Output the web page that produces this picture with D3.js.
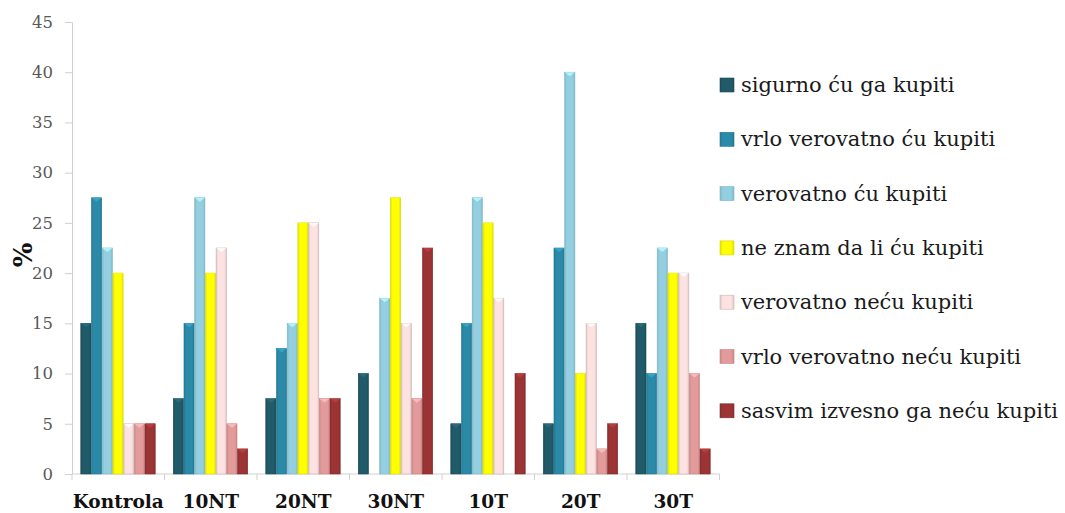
<!DOCTYPE html>
<html><head><meta charset="utf-8">
<script src="https://cdn.jsdelivr.net/npm/d3@7"></script>
<style>body{margin:0;background:#fff}svg{display:block}</style>
</head><body>
<svg id="c" width="1065" height="513"></svg>
<script>
const categories = ["Kontrola","10NT","20NT","30NT","10T","20T","30T"];
const seriesNames = ["sigurno ću ga kupiti","vrlo verovatno ću kupiti","verovatno ću kupiti","ne znam da li ću kupiti","verovatno neću kupiti","vrlo verovatno neću kupiti","sasvim izvesno ga neću kupiti"];
const sigurno      = [15, 7.5, 7.5, 10, 5, 5, 15];
const vrloVerov    = [27.5, 15, 12.5, 0, 15, 22.5, 10];
const verovatno    = [22.5, 27.5, 15, 17.5, 27.5, 40, 22.5];
const neZnam       = [20, 20, 25, 27.5, 25, 10, 20];
const verovNece    = [5, 22.5, 25, 15, 17.5, 15, 20];
const vrloNece     = [5, 5, 7.5, 7.5, 0, 2.5, 10];
const sasvimNece   = [5, 2.5, 7.5, 22.5, 10, 5, 2.5];
const yTicks = [0,5,10,15,20,25,30,35,40,45];
const colors = ["#215a68","#2a8aa8","#93cfe0","#ffff00","#fde2e2","#e39a9a","#9c3435"];
const edge   = ["#1a4a56","#237590","#7fb6c6","#d8d800","#c8b4b4","#c88484","#842b2c"];

const seriesVals = [sigurno,vrloVerov,verovatno,neZnam,verovNece,vrloNece,sasvimNece];
const svg = d3.select("#c");
const x0 = d3.scaleBand().domain(categories).range([72,719.5]).paddingInner(0.19).paddingOuter(0.095);
const x1 = d3.scaleBand().domain(d3.range(7)).range([0,x0.bandwidth()]);
const y = d3.scaleLinear().domain([0,45]).range([474,22]);

// gradients
const defs = svg.append("defs");
colors.forEach((c,i)=>{
  const g = defs.append("linearGradient").attr("id","g"+i).attr("x1","0").attr("x2","1").attr("y1","0").attr("y2","0");
  const cc = d3.color(c);
  g.append("stop").attr("offset","0").attr("stop-color",cc.darker(0.35));
  g.append("stop").attr("offset","0.2").attr("stop-color",c);
  g.append("stop").attr("offset","0.8").attr("stop-color",c);
  g.append("stop").attr("offset","1").attr("stop-color",cc.darker(0.35));
});

// y axis
const yAxis = svg.append("g").attr("transform","translate(72,0)")
  .call(d3.axisLeft(y).tickValues(yTicks).tickSize(7).tickPadding(12));
yAxis.select(".domain").attr("stroke","#d0d0d0");
yAxis.selectAll(".tick line").attr("stroke","#d0d0d0");
yAxis.selectAll(".tick text").attr("fill","#595959").attr("font-family","DejaVu Serif").attr("font-size",16.5);

// x axis
const xg = svg.append("g").attr("transform","translate(0,474)");
xg.append("line").attr("x1",72).attr("x2",719.5).attr("stroke","#d0d0d0");
const bounds = categories.map(c=>x0(c)-x0.step()*x0.paddingInner()/2);
bounds[0]=72; bounds.push(719.5);
xg.selectAll("line.t").data(bounds).join("line").attr("class","t")
  .attr("x1",d=>d).attr("x2",d=>d).attr("y1",0).attr("y2",6).attr("stroke","#d0d0d0");
xg.selectAll("text").data(categories).join("text")
  .attr("x",d=>(x0(d)+x0.bandwidth()/2)).attr("y",34)
  .attr("text-anchor","middle").attr("font-family","DejaVu Serif").attr("font-weight","bold")
  .attr("font-size",18.5).attr("fill","#111").text(d=>d);

// y label
svg.append("text").attr("transform","translate(32,255) rotate(-90)")
  .attr("text-anchor","middle").attr("font-family","DejaVu Serif").attr("font-weight","bold")
  .attr("font-size",26).attr("fill","#111").text("%");

// bars
const groups = svg.append("g").selectAll("g").data(categories).join("g")
  .attr("transform",d=>`translate(${x0(d)},0)`);
groups.selectAll("rect").data((d,ci)=>seriesVals.map((s,si)=>({si,v:s[ci]})).filter(o=>o.v>0)).join("rect")
  .attr("x",d=>x1(d.si)).attr("width",x1.bandwidth()-0.5)
  .attr("y",d=>y(d.v)).attr("height",d=>y(0)-y(d.v))
  .attr("fill",d=>`url(#g${d.si})`).attr("stroke",d=>edge[d.si]).attr("stroke-width",0.6);
// top caps
groups.selectAll("path.cap").data((d,ci)=>seriesVals.map((s,si)=>({si,v:s[ci]})).filter(o=>o.v>0)).join("path")
  .attr("class","cap")
  .attr("d",d=>{const xa=x1(d.si), w=x1.bandwidth()-0.5, yy=y(d.v);
    return `M${xa},${yy}L${xa+w},${yy}L${xa+w/2},${yy+4}Z`;})
  .attr("fill",d=>d3.color(colors[d.si]).brighter(0.6)).attr("opacity",0.8);

// legend
const leg = svg.append("g").attr("transform","translate(720,85)");
const li = leg.selectAll("g").data(seriesNames).join("g").attr("transform",(d,i)=>`translate(0,${i*54.3})`);
li.append("rect").attr("x",0).attr("y",-7).attr("width",14).attr("height",14)
  .attr("fill",(d,i)=>`url(#g${i})`).attr("stroke",(d,i)=>edge[i]).attr("stroke-width",0.6);
li.append("text").attr("x",21).attr("y",7).attr("font-family","DejaVu Serif")
  .attr("font-size",21).attr("fill","#1a1a1a").text(d=>d);
</script>
</body></html>
